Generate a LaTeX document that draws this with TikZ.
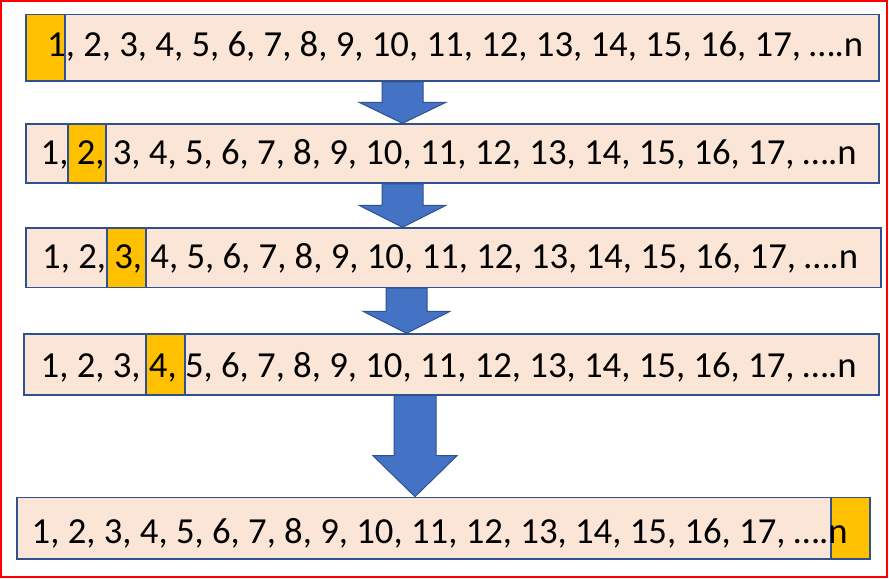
\documentclass[tikz,border=0pt]{standalone}
\usepackage{fontspec}
\setmainfont{Carlito}
\usepackage{tikz}
\usetikzlibrary{calc, positioning}
\definecolor{peachfill}{RGB}{251,229,214}
\definecolor{boxblue}{RGB}{47,82,143}
\definecolor{hlorange}{RGB}{255,192,0}
\definecolor{arrowblue}{RGB}{68,114,196}
\definecolor{framered}{RGB}{255,0,0}
\tikzset{
  rowbox/.style={rectangle, draw=boxblue, fill=peachfill, line width=1.5bp,
    inner sep=0pt, anchor=north west},
  hlbox/.style={rowbox, fill=hlorange},
  seq/.style={inner sep=0pt, anchor=base west,
    font=\fontsize{36.7bp}{44bp}\selectfont},
  blockarr/.style={fill=arrowblue, draw=boxblue, line width=1bp}
}
\newcommand{\seqtext}{1, 2, 3, 4, 5, 6, 7, 8, 9, 10, 11, 12, 13, 14, 15, 16, 17, ….n}
% block arrow: from node, to node, x centre, shaft half, head half, head length
\newcommand{\blkarrow}[6]{%
  \path[blockarr] let \p1=(#1.south), \p2=(#2.north) in
    (#3bp-#4bp,\y1) -- (#3bp+#4bp,\y1) -- (#3bp+#4bp,\y2+#6bp)
    -- (#3bp+#5bp,\y2+#6bp) -- (#3bp,\y2) -- (#3bp-#5bp,\y2+#6bp)
    -- (#3bp-#4bp,\y2+#6bp) -- cycle;}

\begin{document}
\begin{tikzpicture}[x=1bp, y=-1bp]
  \useasboundingbox (0,0) rectangle (889,579);
  \draw[framered, line width=1.5bp] (1,1) rectangle (887,577);

  % rows
  \node[rowbox, minimum width=853bp, minimum height=66.5bp] (row1) at (25,14) {};
  \node[rowbox, minimum width=853bp, minimum height=59bp] (row2) at (25,123.3) {};
  \node[rowbox, minimum width=855bp, minimum height=59.4bp] (row3) at (25,227.3) {};
  \node[rowbox, minimum width=855bp, minimum height=60.7bp] (row4) at (23,333.3) {};
  \node[rowbox, minimum width=853bp, minimum height=61.6bp] (row5) at (16,496.7) {};

  % current element
  \node[hlbox, minimum width=39bp, minimum height=66.5bp] (hl1) at (25,14) {};
  \node[hlbox, minimum width=38bp, minimum height=59bp] (hl2) at (67,123.3) {};
  \node[hlbox, minimum width=39bp, minimum height=59.4bp] (hl3) at (106,227.3) {};
  \node[hlbox, minimum width=39bp, minimum height=60.7bp] (hl4) at (145,333.3) {};
  \node[hlbox, minimum width=39bp, minimum height=61.6bp, anchor=north east]
       (hl5) at (row5.north east) {};

  % sequences
  \node[seq] (seq1) at (47,57) {\seqtext};
  \node[seq] (seq2) at (40.5,165) {\seqtext};
  \node[seq] (seq3) at (42,268) {\seqtext};
  \node[seq] (seq4) at (40.5,377) {\seqtext};
  \node[seq] (seq5) at (31.5,543) {\seqtext};

  % arrows
  \blkarrow{row1}{row2}{402.5}{20.5}{43.5}{21}
  \blkarrow{row2}{row3}{402.5}{20.5}{43.5}{22}
  \blkarrow{row3}{row4}{406.5}{20.5}{43.5}{22}
  \blkarrow{row4}{row5}{415}{21}{42}{41}
\end{tikzpicture}
\end{document}
